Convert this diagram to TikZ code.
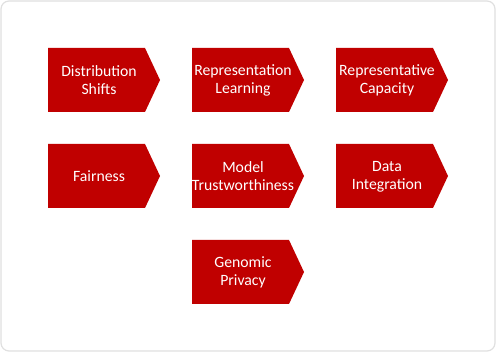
\documentclass[tikz,border=0pt]{standalone}
\usepackage{fontspec}
\setmainfont{Carlito}
\begin{document}
\begin{tikzpicture}[x=0.75pt,y=-0.75pt,
  arrowbox/.style={fill={rgb,255:red,192;green,0;blue,0}, draw=none},
  lbl/.style={text=white, align=center, font=\fontsize{11.8pt}{13.6pt}\selectfont, inner sep=0pt}]
\useasboundingbox (0,0) rectangle (496,352);
\draw[draw={rgb,255:red,224;green,224;blue,224}, line width=0.9pt, rounded corners=6pt, fill=white] (1,1) rectangle (495,351);
\foreach \name/\x/\y/\t in {a/48/48/{Distribution\\Shifts}, b/192/48/{Representation\\Learning}, c/336/48/{Representative\\Capacity}, d/48/144/{Fairness}, e/192/144/{Model\\Trustworthiness}, f/336/144/{Data\\Integration}, g/192/240/{Genomic\\Privacy}}{
  \fill[arrowbox] (\x,\y) -- ++(97,0) -- ++(15,32) -- ++(-15,32) -- ++(-97,0) -- cycle;
  \node[lbl] (\name) at (\x+51,\y+32.5) {\t};
}
\end{tikzpicture}
\end{document}
